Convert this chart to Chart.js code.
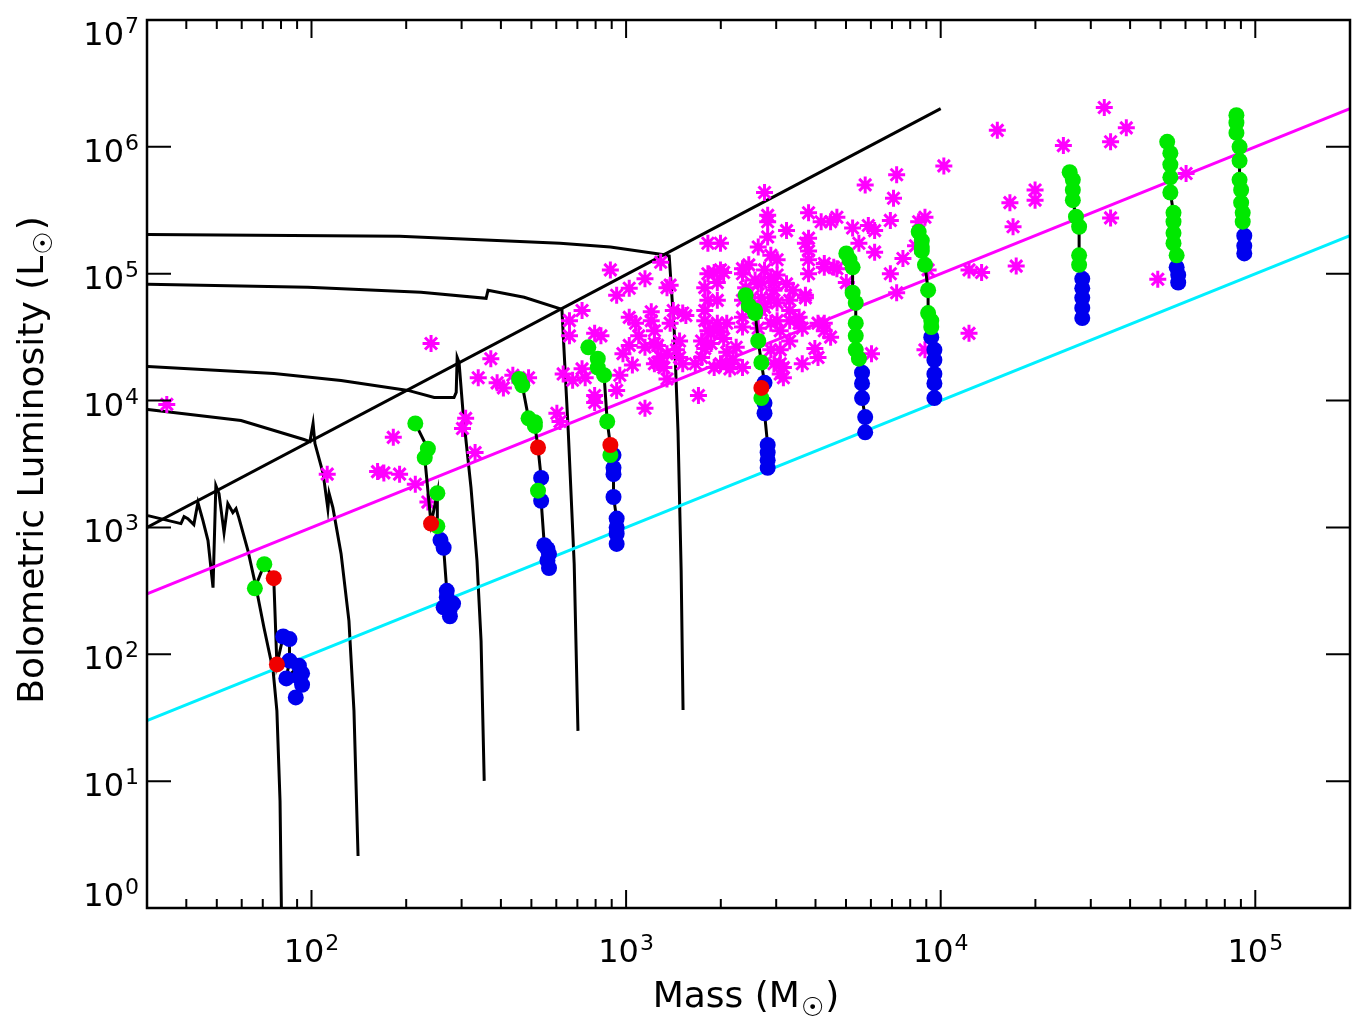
<!DOCTYPE html>
<html lang="en">
<head>
<meta charset="UTF-8">
<title>Bolometric luminosity vs mass</title>
<style>
  html, body { margin: 0; padding: 0; background: #fff; }
  .wrap { position: relative; width: 1365px; height: 1027px; }
</style>
</head>
<body>
<div class="wrap"><canvas id="mlChart"></canvas></div>
<script src="https://cdn.jsdelivr.net/npm/chart.js"></script>
<script>
// all values, stored as log10(M/Msun) and log10(L/Lsun)

// axis ticks (decades)
const xMajorPowers = [2, 3, 4, 5];
const yMajorPowers = [0, 1, 2, 3, 4, 5, 6, 7];

// straight reference lines (real values)
const limitM = [30, 10000];
const limitL = [1000, 2.0e6];
const tenM = [30, 2e5];
const tenL = [300, 2e6];
const oneM = [30, 2e5];
const oneL = [30, 2e5];

// black evolutionary tracks
const trackALogM = [1.480, 2.28, 2.79, 2.95, 3.121, 3.137, 3.153, 3.165, 3.175, 3.181];
const trackALogL = [5.31, 5.295, 5.24, 5.21, 5.15, 5.14, 4.55, 3.76, 2.66, 1.56];
const trackBLogM = [1.480, 1.989, 2.348, 2.555, 2.561, 2.676, 2.796, 2.816, 2.835, 2.847];
const trackBLogL = [4.916, 4.893, 4.853, 4.806, 4.869, 4.814, 4.719, 3.764, 2.714, 1.396];
const trackCLogM = [1.480, 1.881, 2.094, 2.307, 2.390, 2.453, 2.460, 2.463, 2.469, 2.482, 2.507, 2.526, 2.539, 2.549];
const trackCLogL = [4.269, 4.214, 4.159, 4.080, 4.024, 4.024, 4.064, 4.340, 4.301, 3.898, 3.314, 2.738, 2.107, 1.002];
const trackDLogM = [1.480, 1.776, 1.976, 1.995, 2.005, 2.011, 2.037, 2.052, 2.056, 2.068, 2.094, 2.119, 2.135, 2.148];
const trackDLogL = [3.930, 3.843, 3.693, 3.677, 3.819, 3.661, 3.425, 3.148, 3.267, 3.156, 2.793, 2.264, 1.554, 0.410];
const trackELogM = [1.480, 1.585, 1.595, 1.607, 1.626, 1.639, 1.655, 1.671, 1.687, 1.696, 1.706, 1.722,
                    1.734, 1.750, 1.760, 1.769, 1.798, 1.824, 1.849, 1.878, 1.890, 1.900, 1.906];
const trackELogL = [3.093, 3.030, 3.085, 3.069, 3.022, 3.196, 3.054, 2.896, 2.525, 3.330, 3.267, 2.959,
                    3.188, 3.117, 3.148, 3.077, 2.817, 2.525, 2.209, 1.870, 1.554, 0.844, -0.340];

// observed clumps (magenta asterisks)
const starLogM = [
  1.54, 2.05, 2.21, 2.23, 2.28, 2.33, 2.37, 2.26, 2.38, 2.57,
  2.53, 2.59, 2.61, 2.64, 2.69, 2.49, 2.48, 2.52, 2.78, 2.79,
  4.01, 3.86, 3.76, 3.85, 3.44, 3.84, 3.95, 3.45, 3.45, 3.58,
  3.62, 3.65, 3.67, 3.72, 3.77, 3.79, 3.79, 3.74, 3.88, 3.84,
  3.86, 3.70, 3.92, 3.51, 3.45, 3.42, 3.46, 3.48, 3.58, 3.58,
  3.58, 3.58, 3.63, 3.66, 3.26, 3.30, 2.95, 3.06, 3.11, 3.13,
  3.01, 2.97, 2.86, 2.82, 2.82, 2.92, 3.01, 3.03, 3.08, 3.08,
  3.09, 3.04, 3.01, 2.99, 3.06, 3.09, 3.11, 3.14, 3.15, 3.18,
  3.13, 3.12, 3.16, 3.02, 2.98, 2.86, 2.83, 2.80, 3.28, 3.31,
  3.25, 3.29, 3.37, 3.39, 3.41, 3.44, 3.43, 3.48, 3.51, 3.47,
  3.53, 3.57, 3.52, 3.48, 3.52, 3.55, 3.48, 3.49, 3.55, 3.26,
  3.29, 3.25, 3.25, 3.29, 3.26, 3.30, 3.24, 3.27, 3.31, 3.32,
  3.34, 3.30, 3.33, 3.28, 3.24, 3.22, 3.35, 3.37, 3.38, 3.37,
  3.37, 3.37, 3.40, 3.43, 3.46, 3.49, 3.49, 3.49, 3.52, 3.60,
  3.61, 3.61, 3.63, 3.65, 3.56, 3.78, 3.63, 3.95, 3.14, 2.90,
  3.19, 3.28, 3.32, 3.10, 3.10, 3.17, 3.17, 2.97, 3.09, 3.13,
  3.18, 3.25, 3.32, 3.37, 3.23, 3.06, 2.90, 2.90, 2.87, 3.42,
  3.44, 3.46, 3.46, 3.46, 3.47, 3.50, 3.50, 3.63, 3.57, 3.57,
  3.26, 3.42, 3.56, 3.67, 4.09, 4.13, 4.09, 4.18, 4.52, 4.59,
  4.54, 4.39, 4.22, 4.30, 4.30, 4.23, 4.54, 4.24, 3.93, 3.96,
  4.69, 4.78, 3.30, 3.43, 3.47, 3.52
];
const starLogL = [
  3.97, 3.42, 3.44, 3.43, 3.42, 3.34, 3.20, 3.71, 4.45, 4.33,
  4.18, 4.14, 4.10, 4.20, 4.18, 3.86, 3.78, 3.59, 3.90, 3.835,
  5.85, 5.78, 5.70, 5.595, 5.64, 5.42, 5.445, 5.46, 5.41, 5.48,
  5.41, 5.41, 5.445, 5.36, 5.38, 5.34, 5.17, 5.24, 5.12, 5.00,
  4.85, 4.93, 5.22, 5.34, 5.29, 5.21, 5.145, 5.11, 5.28, 5.18,
  5.11, 5.00, 5.05, 5.05, 5.24, 5.24, 5.03, 4.96, 5.09, 4.89,
  4.885, 4.83, 4.71, 4.63, 4.51, 4.51, 4.656, 4.61, 4.70, 4.63,
  4.55, 4.51, 4.435, 4.37, 4.42, 4.45, 4.34, 4.61, 4.71, 4.69,
  4.37, 4.26, 4.40, 4.28, 4.20, 4.25, 4.16, 4.21, 5.01, 5.01,
  4.89, 4.93, 5.04, 5.07, 4.95, 5.03, 4.93, 4.99, 4.92, 4.87,
  4.87, 4.81, 4.79, 4.77, 4.71, 4.656, 4.63, 4.55, 4.61, 4.79,
  4.79, 4.71, 4.63, 4.61, 4.55, 4.54, 4.47, 4.45, 4.49, 4.38,
  4.32, 4.29, 4.25, 4.26, 4.34, 4.29, 4.42, 5.00, 4.89, 4.79,
  4.656, 4.58, 4.81, 4.71, 4.61, 4.40, 4.29, 4.21, 4.47, 4.41,
  4.34, 4.61, 4.61, 4.50, 4.29, 4.37, 5.08, 4.40, 4.91, 4.53,
  4.67, 4.55, 4.61, 4.435, 4.30, 4.47, 4.34, 4.08, 4.29, 4.17,
  4.29, 4.41, 4.29, 4.26, 4.04, 3.94, 4.04, 3.985, 4.18, 4.57,
  4.735, 4.81, 4.97, 4.40, 4.29, 4.26, 4.18, 4.55, 4.83, 5.24,
  5.00, 4.92, 4.57, 5.04, 5.03, 5.01, 4.53, 6.13, 6.31, 6.15,
  6.04, 6.01, 5.56, 5.66, 5.58, 5.37, 5.44, 5.06, 5.41, 5.03,
  4.956, 5.79, 5.03, 4.81, 4.93, 4.63
];

// model clumps: g = green, r = red, b = blue stage
const c1M = [1.82, 1.85, 1.88, 1.89, 1.91, 1.93, 1.93, 1.92, 1.96, 1.97, 1.96, 1.97, 1.95];
const c1L = [2.52, 2.71, 2.60, 1.92, 2.14, 2.12, 1.95, 1.81, 1.91, 1.85, 1.82, 1.76, 1.66];
const c1K = 'ggrrbbbbbbbbb';
const c2M = [2.33, 2.37, 2.36, 2.38, 2.40, 2.40, 2.41, 2.42, 2.43, 2.43, 2.45, 2.44, 2.42, 2.44];
const c2L = [3.82, 3.62, 3.55, 3.03, 3.27, 3.01, 2.90, 2.84, 2.50, 2.45, 2.40, 2.36, 2.37, 2.30];
const c2K = 'gggrggbbbbbbbb';
const c3M = [2.66, 2.67, 2.69, 2.71, 2.71, 2.72, 2.73, 2.72, 2.73, 2.74, 2.75, 2.755, 2.75, 2.755];
const c3L = [4.17, 4.12, 3.86, 3.83, 3.80, 3.63, 3.39, 3.29, 3.21, 2.86, 2.83, 2.79, 2.74, 2.68];
const c3K = 'gggggrbgbbbbbb';
const c4M = [2.88, 2.91, 2.91, 2.93, 2.94, 2.95, 2.96, 2.95, 2.96, 2.96, 2.96, 2.97, 2.97, 2.97, 2.97];
const c4L = [4.42, 4.33, 4.26, 4.20, 3.835, 3.65, 3.57, 3.57, 3.47, 3.42, 3.24, 3.07, 3.00, 2.95, 2.87];
const c4K = 'gggggrbgbbbbbbb';
const c5M = [3.38, 3.39, 3.41, 3.41, 3.42, 3.43, 3.44, 3.43, 3.43, 3.44, 3.44, 3.45, 3.45, 3.45, 3.45];
const c5L = [4.83, 4.75, 4.71, 4.69, 4.47, 4.30, 4.14, 4.10, 4.02, 3.98, 3.90, 3.65, 3.59, 3.53, 3.47];
const c5K = 'ggggggbrgbbbbbb';
const c6M = [3.70, 3.71, 3.72, 3.72, 3.73, 3.73, 3.73, 3.73, 3.74, 3.75, 3.75, 3.75, 3.76, 3.76];
const c6L = [5.16, 5.11, 5.05, 4.85, 4.77, 4.61, 4.51, 4.40, 4.33, 4.22, 4.135, 4.02, 3.87, 3.75];
const c6K = 'gggggggggbbbbb';
const c7M = [3.93, 3.94, 3.94, 3.94, 3.95, 3.96, 3.96, 3.97, 3.97, 3.97, 3.98, 3.98, 3.98, 3.98, 3.98];
const c7L = [5.33, 5.26, 5.21, 5.18, 5.07, 4.87, 4.69, 4.63, 4.58, 4.50, 4.40, 4.32, 4.21, 4.135, 4.02];
const c7K = 'gggggggggbbbbbb';
const c8M = [4.41, 4.42, 4.42, 4.42, 4.43, 4.44, 4.44, 4.44, 4.45, 4.45, 4.45, 4.45, 4.45];
const c8L = [5.80, 5.74, 5.66, 5.58, 5.45, 5.37, 5.145, 5.07, 4.96, 4.885, 4.81, 4.73, 4.65];
const c8K = 'ggggggggbbbbb';
const c9M = [4.72, 4.73, 4.73, 4.73, 4.73, 4.74, 4.74, 4.74, 4.74, 4.75, 4.75, 4.755, 4.755];
const c9L = [6.04, 5.95, 5.86, 5.76, 5.64, 5.48, 5.41, 5.32, 5.24, 5.145, 5.05, 4.99, 4.93];
const c9K = 'ggggggggggbbb';
const c10M = [4.94, 4.94, 4.94, 4.95, 4.95, 4.95, 4.955, 4.955, 4.96, 4.96, 4.965, 4.965, 4.965];
const c10L = [6.25, 6.19, 6.11, 6.00, 5.89, 5.74, 5.66, 5.56, 5.48, 5.41, 5.30, 5.22, 5.16];
const c10K = 'ggggggggggbbb';

const clusters = [
  [c1M, c1L, c1K], [c2M, c2L, c2K], [c3M, c3L, c3K], [c4M, c4L, c4K], [c5M, c5L, c5K],
  [c6M, c6L, c6K], [c7M, c7L, c7K], [c8M, c8L, c8K], [c9M, c9L, c9K], [c10M, c10L, c10K]
];

const FONT = '"DejaVu Sans", "Liberation Sans", sans-serif';
const GREEN = 'rgb(0, 232, 0)';
const BLUE = 'rgb(0, 0, 238)';
const RED = 'rgb(240, 0, 0)';
const MAGENTA = '#ff00ff';
const CYAN = '#00f0ff';

const fromLog = (lm, ll) => lm.map((m, i) => ({ x: Math.pow(10, m), y: Math.pow(10, ll[i]) }));
const fromLin = (m, l) => m.map((v, i) => ({ x: v, y: l[i] }));

function lineSet(data, color, order) {
  return { data: data, showLine: true, borderColor: color, borderWidth: 3,
           pointRadius: 0, tension: 0, fill: false, order: order };
}

function dotSet(kind, color) {
  const pts = [];
  clusters.forEach(([lm, ll, kk]) => {
    for (let i = 0; i < lm.length; i++) {
      if (kk[i] === kind) pts.push({ x: Math.pow(10, lm[i]), y: Math.pow(10, ll[i]) });
    }
  });
  return { data: pts, pointStyle: 'circle', radius: 8, pointRadius: 8, backgroundColor: color,
           pointBackgroundColor: color, borderWidth: 0, pointBorderWidth: 0,
           showLine: false, order: kind === 'r' ? 1 : (kind === 'g' ? 2 : 3) };
}

const datasets = [
  dotSet('r', RED),
  dotSet('g', GREEN),
  dotSet('b', BLUE)
];
clusters.forEach(([lm, ll]) => datasets.push(lineSet(fromLog(lm, ll), '#000', 4)));
datasets.push({
  data: fromLog(starLogM, starLogL), pointStyle: 'star', radius: 8.5, pointRadius: 8.5,
  borderColor: MAGENTA, pointBorderColor: MAGENTA, backgroundColor: MAGENTA,
  borderWidth: 3, pointBorderWidth: 3, showLine: false, order: 5
});
datasets.push(lineSet(fromLin(oneM, oneL), CYAN, 6));
datasets.push(lineSet(fromLin(tenM, tenL), MAGENTA, 6));
datasets.push(lineSet(fromLin(limitM, limitL), '#000', 7));
[[trackALogM, trackALogL], [trackBLogM, trackBLogL], [trackCLogM, trackCLogL],
 [trackDLogM, trackDLogL], [trackELogM, trackELogL]].forEach(([lm, ll]) => {
  datasets.push(lineSet(fromLog(lm, ll), '#000', 8));
});

// "10" with a raised exponent; anchor is 'right' or 'center'
function drawPower(ctx, p, ax, base, anchor) {
  ctx.font = '32px ' + FONT;
  const w10 = ctx.measureText('10').width;
  ctx.font = '22px ' + FONT;
  const we = ctx.measureText(String(p)).width;
  const total = w10 + 1 + we;
  const x0 = anchor === 'right' ? ax - total : ax - total / 2;
  ctx.font = '32px ' + FONT;
  ctx.fillText('10', x0, base);
  ctx.font = '22px ' + FONT;
  ctx.fillText(String(p), x0 + w10 + 1, base - 12);
}

// title text + subscript sun symbol + ")", centred on cx
function drawTitle(ctx, text, cx, base) {
  ctx.font = '36px ' + FONT;
  const w1 = ctx.measureText(text).width;
  const w3 = ctx.measureText(')').width;
  ctx.font = '26px ' + FONT;
  const w2 = ctx.measureText('\u2609').width;
  let x = cx - (w1 + w2 + w3 + 2) / 2;
  ctx.font = '36px ' + FONT;
  ctx.fillText(text, x, base);
  x += w1 + 1;
  ctx.font = '26px ' + FONT;
  ctx.fillText('\u2609', x, base + 9);
  x += w2 + 1;
  ctx.font = '36px ' + FONT;
  ctx.fillText(')', x, base);
}

const framePlugin = {
  id: 'frame',
  afterDatasetsDraw(chart) {
    const { ctx, chartArea: a, scales: { x, y } } = chart;
    ctx.save();
    ctx.strokeStyle = '#000';
    ctx.lineWidth = 2.5;
    ctx.strokeRect(a.left, a.top, a.right - a.left, a.bottom - a.top);

    ctx.lineWidth = 2;
    ctx.beginPath();
    for (let p = 1; p <= 5; p++) {
      for (let k = 1; k <= 9; k++) {
        const v = k * Math.pow(10, p);
        if (v <= x.min * 1.001 || v >= x.max * 0.999) continue;
        const px = x.getPixelForValue(v);
        const len = k === 1 ? 18 : 9;
        ctx.moveTo(px, a.bottom); ctx.lineTo(px, a.bottom - len);
        ctx.moveTo(px, a.top); ctx.lineTo(px, a.top + len);
      }
    }
    yMajorPowers.forEach(p => {
      const py = y.getPixelForValue(Math.pow(10, p));
      ctx.moveTo(a.left, py); ctx.lineTo(a.left + 24, py);
      ctx.moveTo(a.right, py); ctx.lineTo(a.right - 24, py);
    });
    ctx.stroke();

    ctx.fillStyle = '#000';
    ctx.textBaseline = 'alphabetic';
    ctx.textAlign = 'left';
    yMajorPowers.forEach(p => {
      const py = y.getPixelForValue(Math.pow(10, p));
      let shift = 15;
      if (p === 7) shift = 25;
      if (p === 0) shift = -2;
      drawPower(ctx, p, 139, py + shift, 'right');
    });
    xMajorPowers.forEach(p => {
      const px = x.getPixelForValue(Math.pow(10, p));
      drawPower(ctx, p, px, a.bottom + 54, 'center');
    });

    drawTitle(ctx, 'Mass (M', 746, 1007);
    ctx.translate(43, 460);
    ctx.rotate(-Math.PI / 2);
    drawTitle(ctx, 'Bolometric Luminosity (L', 0, 0);
    ctx.restore();
  }
};

new Chart(document.getElementById('mlChart'), {
  type: 'scatter',
  data: { datasets: datasets },
  options: {
    responsive: true,
    maintainAspectRatio: false,
    animation: false,
    events: [],
    layout: { padding: { left: 147, right: 15, top: 20, bottom: 119 } },
    plugins: { legend: { display: false }, tooltip: { enabled: false } },
    scales: {
      x: { type: 'logarithmic', min: 30, max: 2e5, display: false },
      y: { type: 'logarithmic', min: 1, max: 1e7, display: false }
    }
  },
  plugins: [framePlugin]
});
</script>
</body>
</html>
